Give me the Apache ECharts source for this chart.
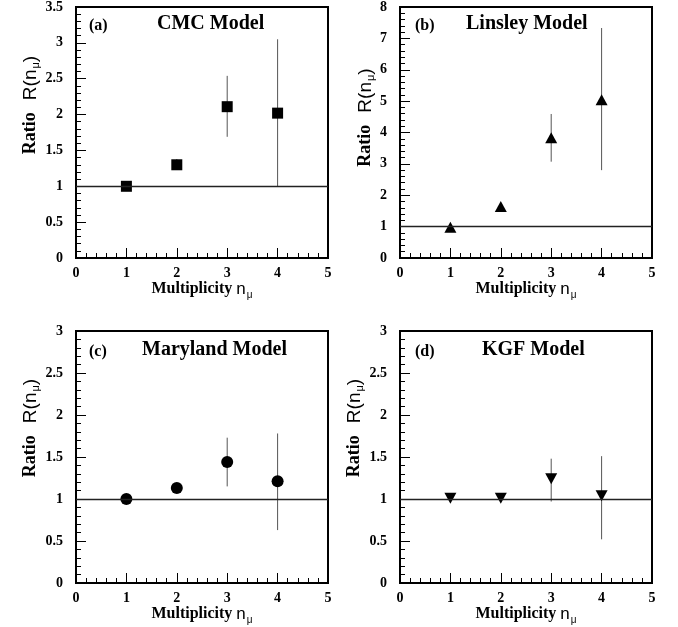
<!DOCTYPE html>
<html>
<head>
<meta charset="utf-8">
<script src="https://cdn.jsdelivr.net/npm/echarts@6/dist/echarts.min.js"></script>
<style>
    html, body { margin: 0; padding: 0; background: #fff; }
    #chart { width: 678px; height: 627px; }
</style>
</head>
<body>
<div id="chart"></div>
<script>
// 横轴：缪子多重数
const multiplicity = [1, 2, 3, 4];

// (a) CMC 模型
const cmcRatio = [1.00, 1.30, 2.11, 2.02];
const cmcLow = [0.97, 1.23, 1.69, 1.00];
const cmcHigh = [1.03, 1.38, 2.54, 3.05];

// (b) Linsley 模型
const linsleyRatio = [0.98, 1.64, 3.83, 5.04];
const linsleyLow = [0.90, 1.55, 3.07, 2.80];
const linsleyHigh = [1.06, 1.73, 4.59, 7.33];

// (c) Maryland 模型
const marylandRatio = [1.00, 1.13, 1.44, 1.21];
const marylandLow = [0.98, 1.10, 1.15, 0.63];
const marylandHigh = [1.02, 1.16, 1.73, 1.78];

// (d) KGF 模型
const kgfRatio = [1.01, 1.01, 1.24, 1.04];
const kgfLow = [0.99, 0.99, 0.97, 0.52];
const kgfHigh = [1.03, 1.03, 1.48, 1.51];

// 面板文字
const panelLabels = ['(a)', '(b)', '(c)', '(d)'];
const modelNames = ['CMC Model', 'Linsley Model', 'Maryland Model', 'KGF Model'];
const yMaxList = [3.5, 8, 3, 3];
const yStepList = [0.5, 1, 0.5, 0.5];

const SERIF = "'Liberation Serif', 'Times New Roman', serif";
const SANS = "'Liberation Sans', Arial, sans-serif";

const ratios = [cmcRatio, linsleyRatio, marylandRatio, kgfRatio];
const lows = [cmcLow, linsleyLow, marylandLow, kgfLow];
const highs = [cmcHigh, linsleyHigh, marylandHigh, kgfHigh];

// 各面板的布局
const grids = [
    { left: 76, top: 5, width: 252, height: 253 },
    { left: 400, top: 5, width: 252, height: 253 },
    { left: 76, top: 331, width: 252, height: 252 },
    { left: 400, top: 331, width: 252, height: 252 }
];
const symbols = [
    { symbol: 'rect', size: 11, rotate: 0 },
    { symbol: 'triangle', size: [12, 11], rotate: 0 },
    { symbol: 'circle', size: 12, rotate: 0 },
    { symbol: 'triangle', size: [12, 11], rotate: 180 }
];
const yNameGap = [31, 20, 32, 32];
const yNameShift = [55, 30, 58, 58];
const titleLeft = [157, 466, 142, 482];
const labelLeft = [89, 415, 89, 415];

const chart = echarts.init(document.getElementById('chart'));

const option = {
    backgroundColor: '#fff',
    animation: false,
    title: [],
    grid: [],
    xAxis: [],
    yAxis: [],
    series: []
};

for (let i = 0; i < 4; i++) {
    const top = grids[i].top;

    option.title.push({
        text: panelLabels[i],
        left: labelLeft[i],
        top: top + 13,
        padding: 0,
        textStyle: { fontFamily: SERIF, fontWeight: 'bold', fontSize: 16, color: '#000' }
    });
    option.title.push({
        text: modelNames[i],
        left: titleLeft[i],
        top: top + 9,
        padding: 0,
        textStyle: { fontFamily: SERIF, fontWeight: 'bold', fontSize: 20, color: '#000' }
    });

    option.grid.push(Object.assign({
        show: true,
        borderColor: '#000',
        borderWidth: 2,
        backgroundColor: 'transparent'
    }, grids[i]));

    option.xAxis.push({
        type: 'value',
        gridIndex: i,
        min: 0,
        max: 5,
        interval: 1,
        name: '{a|Multiplicity }{b|n}{s|μ}',
        nameLocation: 'middle',
        nameGap: 21,
        nameTextStyle: {
            rich: {
                a: { fontFamily: SERIF, fontWeight: 'bold', fontSize: 16, color: '#000', lineHeight: 16, verticalAlign: 'top' },
                b: { fontFamily: SANS, fontSize: 17, color: '#000', lineHeight: 16, verticalAlign: 'top' },
                s: { fontFamily: SANS, fontSize: 10, color: '#000', lineHeight: 10, padding: [9, 0, 0, 1], verticalAlign: 'top' }
            }
        },
        axisLine: { show: false },
        axisTick: { inside: true, length: 10, lineStyle: { color: '#000', width: 1 } },
        minorTick: { show: true, splitNumber: 5, length: 5, lineStyle: { color: '#000', width: 1 } },
        splitLine: { show: false },
        axisLabel: { margin: 8, fontFamily: SERIF, fontWeight: 'bold', fontSize: 14, color: '#000' }
    });

    option.yAxis.push({
        type: 'value',
        gridIndex: i,
        min: 0,
        max: yMaxList[i],
        interval: yStepList[i],
        name: '{a|Ratio}{b|R(n}{s|μ}{b|)}',
        nameLocation: 'middle',
        nameGap: yNameGap[i],
        nameRotate: 90,
        nameTextStyle: {
            rich: {
                a: { fontFamily: SERIF, fontWeight: 'bold', fontSize: 18, color: '#000', lineHeight: 18, verticalAlign: 'top', padding: [0, 12, 0, yNameShift[i]] },
                b: { fontFamily: SANS, fontSize: 19, color: '#000', lineHeight: 18, verticalAlign: 'top' },
                s: { fontFamily: SANS, fontSize: 11, color: '#000', lineHeight: 11, padding: [9, 0, 0, 1], verticalAlign: 'top' }
            }
        },
        axisLine: { show: false },
        axisTick: { inside: true, length: 10, lineStyle: { color: '#000', width: 1 } },
        minorTick: { show: true, splitNumber: 5, length: 5, lineStyle: { color: '#000', width: 1 } },
        splitLine: { show: false },
        axisLabel: { margin: 13, fontFamily: SERIF, fontWeight: 'bold', fontSize: 14, color: '#000' }
    });

    // 误差棒
    const errData = [];
    for (let k = 0; k < multiplicity.length; k++) {
        errData.push([multiplicity[k], lows[i][k], highs[i][k]]);
    }
    option.series.push({
        type: 'custom',
        xAxisIndex: i,
        yAxisIndex: i,
        silent: true,
        z: 2,
        data: errData,
        renderItem: function(params, api) {
            const x = api.value(0);
            const p1 = api.coord([x, api.value(1)]);
            const p2 = api.coord([x, api.value(2)]);
            return {
                type: 'line',
                shape: { x1: p1[0], y1: p1[1], x2: p2[0], y2: p2[1] },
                style: { stroke: '#555', lineWidth: 1 }
            };
        }
    });

    // 数据点 + R=1 参考线
    const pts = [];
    for (let k = 0; k < multiplicity.length; k++) {
        pts.push([multiplicity[k], ratios[i][k]]);
    }
    option.series.push({
        type: 'scatter',
        xAxisIndex: i,
        yAxisIndex: i,
        data: pts,
        symbol: symbols[i].symbol,
        symbolSize: symbols[i].size,
        symbolRotate: symbols[i].rotate,
        itemStyle: { color: '#000', opacity: 1 },
        z: 3,
        markLine: {
            silent: true,
            symbol: 'none',
            label: { show: false },
            lineStyle: { color: '#222', width: 1.3, type: 'solid' },
            data: [{ yAxis: 1 }]
        }
    });
}

chart.setOption(option);
</script>
</body>
</html>
